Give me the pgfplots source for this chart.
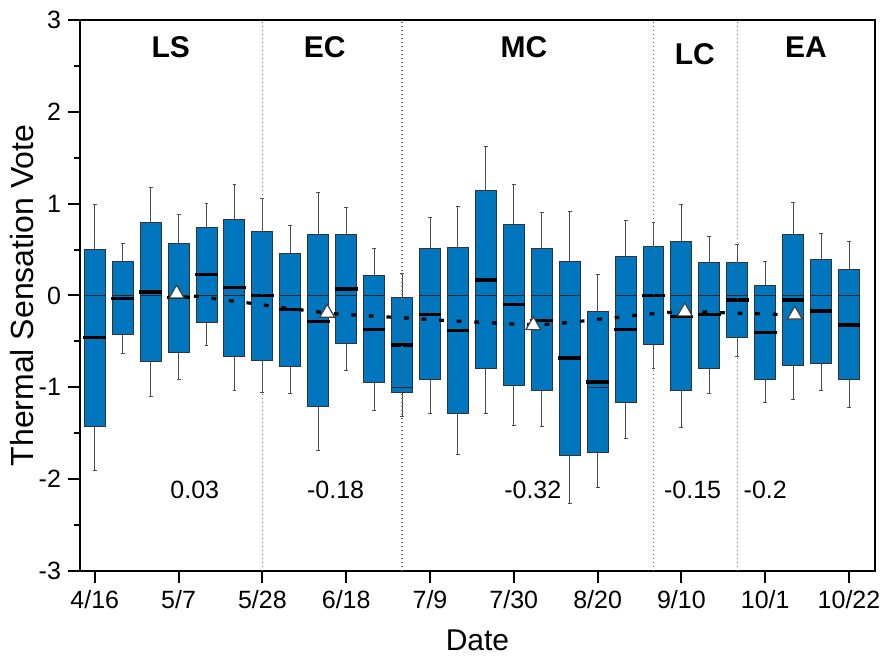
\documentclass[border=0pt]{standalone}
\usepackage{fontspec}
\setmainfont{Liberation Sans}
\usepackage{pgfplots}
\pgfplotsset{compat=1.18}
\usepgfplotslibrary{statistics}
\definecolor{boxblue}{RGB}{0,118,190}

% week, lower whisker, lower quartile, median, upper quartile, upper whisker, mean
\newcommand{\bx}[7]{\addplot[boxplot prepared={draw position=#1, lower whisker=#2, lower quartile=#3, median=#4, upper quartile=#5, upper whisker=#6, average=#7}] coordinates {};}

\begin{document}
\begin{tikzpicture}
\begin{axis}[
  scale only axis, width=397.5pt, height=275.5pt,
  xmin=-0.53, xmax=27.93, ymin=-3, ymax=3,
  clip=false,
  axis line style={line width=1pt},
  tick align=outside,
  xtick pos=bottom, ytick pos=left,
  xtick={0,3,...,27},
  xticklabels={4/16,5/7,5/28,6/18,7/9,7/30,8/20,9/10,10/1,10/22},
  ytick={-3,-2,...,3},
  minor y tick num=1,
  major tick length=6pt, minor tick length=3pt,
  tick style={line width=1pt, black},
  /pgf/number format/assume math mode=true,
  tick label style={font=\fontsize{12.5}{15}\selectfont},
  xlabel={Date},
  ylabel={Thermal Sensation Vote},
  xlabel style={font=\fontsize{15}{18}\selectfont, at={(axis description cs:0.5,-0.125)}, anchor=center},
  ylabel style={font=\fontsize{16}{19}\selectfont, at={(axis description cs:-0.073,0.5)}, anchor=center},
  boxplot/draw direction=y,
  boxplot/box extend=0.75,
  boxplot/whisker extend=0.14,
  boxplot/every box/.style={draw=black!80, fill=boxblue, line width=0.5pt},
  boxplot/every whisker/.style={draw=black!70, line width=0.5pt},
  boxplot/every median/.style={draw=black!85, line width=0.6pt},
  boxplot/draw/average/.code={\draw[black, line width=1.7pt] (boxplot box cs:\pgfplotsboxplotvalue{average},-0.04) -- (boxplot box cs:\pgfplotsboxplotvalue{average},1.04);},
]
\bx{0}{-1.91}{-1.43}{0}{0.50}{0.99}{-0.46}
\bx{1}{-0.63}{-0.43}{0}{0.37}{0.57}{-0.03}
\bx{2}{-1.10}{-0.72}{0}{0.79}{1.18}{0.04}
\bx{3}{-0.92}{-0.62}{0}{0.57}{0.88}{-0.02}
\bx{4}{-0.54}{-0.29}{0}{0.74}{1.00}{0.23}
\bx{5}{-1.03}{-0.66}{0}{0.83}{1.21}{0.09}
\bx{6}{-1.06}{-0.71}{0}{0.70}{1.06}{0.00}
\bx{7}{-1.07}{-0.77}{0}{0.46}{0.76}{-0.15}
\bx{8}{-1.69}{-1.21}{0}{0.66}{1.12}{-0.28}
\bx{9}{-0.82}{-0.52}{0}{0.66}{0.96}{0.07}
\bx{10}{-1.25}{-0.95}{0}{0.22}{0.51}{-0.37}
\bx{11}{-1.32}{-1.06}{-1}{-0.02}{0.24}{-0.54}
\bx{12}{-1.28}{-0.92}{0}{0.51}{0.85}{-0.21}
\bx{13}{-1.73}{-1.28}{0}{0.52}{0.97}{-0.38}
\bx{14}{-1.28}{-0.79}{0}{1.14}{1.62}{0.17}
\bx{15}{-1.42}{-0.98}{0}{0.77}{1.21}{-0.10}
\bx{16}{-1.43}{-1.04}{0}{0.51}{0.90}{-0.27}
\bx{17}{-2.26}{-1.74}{0}{0.37}{0.91}{-0.68}
\bx{18}{-2.09}{-1.71}{-1}{-0.17}{0.23}{-0.94}
\bx{19}{-1.56}{-1.16}{0}{0.42}{0.82}{-0.37}
\bx{20}{-0.80}{-0.53}{0}{0.53}{0.80}{0.00}
\bx{21}{-1.44}{-1.03}{0}{0.59}{0.99}{-0.23}
\bx{22}{-1.07}{-0.79}{0}{0.36}{0.64}{-0.21}
\bx{23}{-0.66}{-0.46}{0}{0.36}{0.55}{-0.05}
\bx{24}{-1.16}{-0.91}{0}{0.11}{0.37}{-0.40}
\bx{25}{-1.13}{-0.76}{0}{0.66}{1.01}{-0.05}
\bx{26}{-1.03}{-0.74}{0}{0.39}{0.68}{-0.17}
\bx{27}{-1.22}{-0.92}{0}{0.28}{0.59}{-0.32}

% phase separators
\addplot[black!60, line width=0.6pt, dash pattern=on 0.6pt off 1.4pt] coordinates {(6,-3) (6,3)};
\addplot[black!60, line width=0.6pt, dash pattern=on 0.6pt off 1.4pt] coordinates {(11,-3) (11,3)};
\addplot[black!60, line width=0.6pt, dash pattern=on 0.6pt off 1.4pt] coordinates {(20,-3) (20,3)};
\addplot[black!60, line width=0.6pt, dash pattern=on 0.6pt off 1.4pt] coordinates {(23,-3) (23,3)};

% trend of means
\addplot[black, line width=1.6pt, dash pattern=on 2.4pt off 6.4pt] coordinates {
 (2.93,0.02) (3.28,0.0) (3.94,-0.018) (4.57,-0.047) (5.19,-0.069) (5.83,-0.094)
 (6.41,-0.12) (7.05,-0.145) (7.67,-0.167) (8.32,-0.19) (8.75,-0.203) (9.39,-0.214)
 (10.0,-0.225) (10.6,-0.236) (11.24,-0.246) (11.85,-0.26) (12.5,-0.272) (13.1,-0.28)
 (13.72,-0.29) (14.34,-0.30) (14.94,-0.31) (15.7,-0.32) (16.1,-0.315) (16.76,-0.30)
 (17.4,-0.28) (18.0,-0.26) (18.6,-0.243) (19.2,-0.22) (19.8,-0.203) (20.5,-0.185)
 (21.12,-0.175) (21.5,-0.175) (22.2,-0.185) (22.8,-0.19) (23.4,-0.196) (24.1,-0.2)
 (24.6,-0.21) (25.06,-0.21)};

% phase means
\addplot[only marks, mark=triangle*, mark size=4.3pt, mark options={fill=white, draw=black!75, line width=0.6pt}] coordinates {
 (2.93,0.02) (8.32,-0.19) (15.7,-0.325) (21.12,-0.175) (25.06,-0.21)};

\node[font=\bfseries\fontsize{15}{18}\selectfont] at (axis cs:2.72,2.70) {LS};
\node[font=\bfseries\fontsize{15}{18}\selectfont] at (axis cs:8.23,2.70) {EC};
\node[font=\bfseries\fontsize{15}{18}\selectfont] at (axis cs:15.36,2.70) {MC};
\node[font=\bfseries\fontsize{15}{18}\selectfont] at (axis cs:21.48,2.63) {LC};
\node[font=\bfseries\fontsize{15}{18}\selectfont] at (axis cs:25.46,2.70) {EA};

\node[font=\fontsize{12.5}{15}\selectfont] at (axis cs:3.58,-2.12) {0.03};
\node[font=\fontsize{12.5}{15}\selectfont] at (axis cs:8.62,-2.12) {-0.18};
\node[font=\fontsize{12.5}{15}\selectfont] at (axis cs:15.68,-2.12) {-0.32};
\node[font=\fontsize{12.5}{15}\selectfont] at (axis cs:21.4,-2.12) {-0.15};
\node[font=\fontsize{12.5}{15}\selectfont] at (axis cs:24.0,-2.12) {-0.2};

\coordinate (sw) at (rel axis cs:0,0);
\coordinate (ne) at (rel axis cs:1,1);
\end{axis}
\pgfresetboundingbox
\path ([xshift=-40pt,yshift=-44.5pt]sw) rectangle ([xshift=4.5pt,yshift=10pt]ne);
\end{tikzpicture}
\end{document}
